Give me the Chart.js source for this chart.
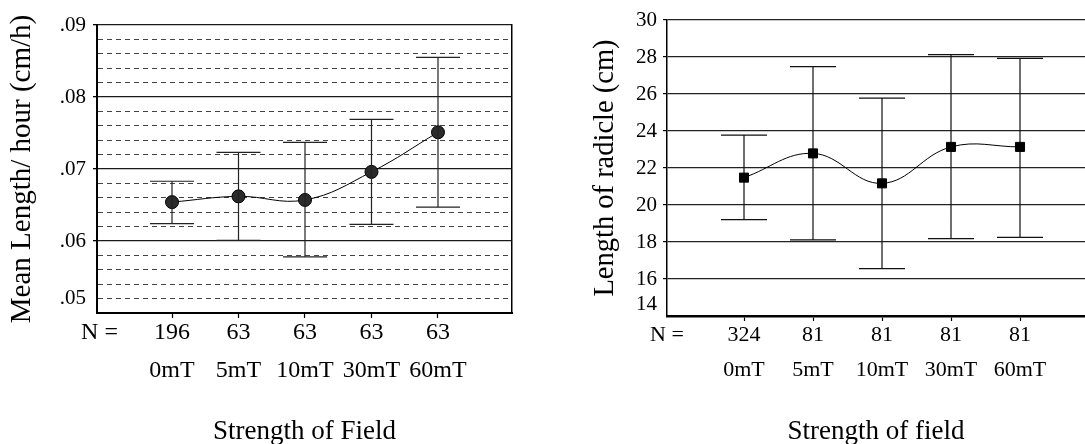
<!DOCTYPE html>
<html>
<head>
<meta charset="utf-8">
<script src="https://cdn.jsdelivr.net/npm/chart.js@4.4.0/dist/chart.umd.min.js"></script>
<style>
  html, body { margin: 0; padding: 0; background: #fff; }
  #left { position: absolute; left: 0; top: 0; width: 540px; height: 444px; }
  #right { position: absolute; left: 540px; top: 0; width: 545px; height: 444px; }
</style>
</head>
<body>
<div id="left"><canvas id="growthRate"></canvas></div>
<div id="right"><canvas id="radicle"></canvas></div>
<script>
var fields = ['0mT', '5mT', '10mT', '30mT', '60mT'];

// left: growth rate
var rateN = [196, 63, 63, 63, 63];
var rateMean = [0.0654, 0.0662, 0.0657, 0.0696, 0.0751];
var rateLow = [0.0624, 0.0601, 0.0578, 0.0623, 0.0647];
var rateHigh = [0.0683, 0.0723, 0.0737, 0.0769, 0.0855];
var rateTickValues = [0.052, 0.06, 0.07, 0.08, 0.09];
var rateTickLabels = ['.05', '.06', '.07', '.08', '.09'];

// right: radicle length
var radicleN = [324, 81, 81, 81, 81];
var radicleMean = [21.48, 22.79, 21.17, 23.14, 23.14];
var radicleLow = [19.21, 18.11, 16.56, 18.18, 18.25];
var radicleHigh = [23.78, 27.48, 25.78, 28.13, 27.93];
var radicleTickValues = [14.6, 16, 18, 20, 22, 24, 26, 28, 30];
var radicleTickLabels = ['14', '16', '18', '20', '22', '24', '26', '28', '30'];

Chart.defaults.font.family = "'Liberation Serif', 'Times New Roman', serif";
Chart.defaults.color = '#000';

var clear = 'rgba(0,0,0,0)';

function meanPoints(means) {
    return means.map(function (m, i) { return {x: i + 1, y: m}; });
}

function errorPoints(low, high) {
    var pts = [];
    for (var i = 0; i < low.length; i++) {
        pts.push({x: i + 1, y: low[i]}, {x: i + 1, y: high[i]}, {x: i + 1, y: null});
    }
    return pts;
}

function lookupLabel(values, labels, v) {
    for (var i = 0; i < values.length; i++) {
        if (Math.abs(values[i] - v) < 1e-6) return labels[i];
    }
    return '';
}

function isMajor(v) {
    return Math.abs(v * 100 - Math.round(v * 100)) < 1e-6;
}

function xTicks(nPos) {
    return function (scale) {
        scale.ticks = [{value: nPos}].concat(fields.map(function (f, i) { return {value: i + 1}; }));
    };
}

function fixHeight(h) {
    return function (s) {
        s.height = h;
        s.paddingLeft = 0;
        s.paddingRight = 0;
    };
}

// ---------- left chart ----------
new Chart(document.getElementById('growthRate'), {
    type: 'line',
    data: {
        datasets: [{
            data: errorPoints(rateLow, rateHigh),
            borderColor: '#222',
            borderWidth: 1.2,
            tension: 0,
            spanGaps: false,
            pointStyle: 'line',
            pointRadius: 22,
            pointBorderColor: '#222',
            pointBorderWidth: 1.2
        }, {
            data: meanPoints(rateMean),
            borderColor: '#000',
            borderWidth: 1,
            tension: 0.4,
            pointStyle: 'circle',
            pointRadius: 6.5,
            pointBackgroundColor: '#2b2b2b',
            pointBorderColor: '#000',
            pointBorderWidth: 1
        }]
    },
    options: {
        responsive: true,
        maintainAspectRatio: false,
        animation: false,
        events: [],
        layout: {autoPadding: false, padding: {left: 0, right: 28, top: 25, bottom: 0}},
        plugins: {legend: {display: false}, tooltip: {enabled: false}},
        scales: {
            x: {
                type: 'linear',
                min: -0.128,
                max: 6.113,
                afterBuildTicks: xTicks(-0.09),
                afterFit: fixHeight(131),
                grid: {
                    drawOnChartArea: false,
                    drawTicks: true,
                    tickLength: 5,
                    tickWidth: 1.2,
                    tickColor: function (c) { return c.index === 0 ? clear : '#000'; }
                },
                border: {color: '#000', width: 2},
                ticks: {
                    autoSkip: false,
                    maxRotation: 0,
                    minRotation: 0,
                    padding: 5.5,
                    font: {size: 24, lineHeight: '19px'},
                    callback: function (v, i) {
                        return i === 0 ? 'N =' : [String(rateN[i - 1]), '', fields[i - 1]];
                    }
                },
                title: {
                    display: true,
                    text: 'Strength of Field',
                    font: {size: 27, lineHeight: '24px'},
                    padding: 0
                }
            },
            y: {
                min: 0.05,
                max: 0.09,
                afterBuildTicks: function (s) {
                    var t = [];
                    for (var k = 0; k <= 20; k++) t.push({value: Math.round((0.05 + k * 0.002) * 1000) / 1000});
                    s.ticks = t;
                },
                afterFit: function (s) { s.width = 97; },
                ticks: {
                    autoSkip: false,
                    padding: 7,
                    font: {size: 21},
                    callback: function (v) { return lookupLabel(rateTickValues, rateTickLabels, v); }
                },
                grid: {
                    color: function (c) {
                        if (!c.tick) return '#222';
                        var v = c.tick.value;
                        if (Math.abs(v - 0.05) < 1e-6) return clear;
                        return isMajor(v) ? '#1a1a1a' : '#444';
                    },
                    lineWidth: function (c) { return c.tick && isMajor(c.tick.value) ? 1.3 : 1; },
                    tickLength: 4,
                    tickWidth: 1.3,
                    tickColor: function (c) {
                        if (!c.tick) return clear;
                        var v = c.tick.value;
                        return isMajor(v) && Math.abs(v - 0.05) > 1e-6 ? '#000' : clear;
                    }
                },
                border: {
                    color: '#000',
                    width: 2,
                    dash: function (c) { return c.tick && !isMajor(c.tick.value) ? [5, 4] : []; }
                },
                title: {
                    display: true,
                    text: 'Mean Length/ hour (cm/h)',
                    font: {size: 29},
                    padding: {top: 5, bottom: 0}
                }
            },
            yRight: {
                position: 'right',
                min: 0.05,
                max: 0.09,
                ticks: {display: false},
                grid: {display: false, drawTicks: false},
                border: {display: true, color: '#000', width: 1.5},
                afterFit: function (s) { s.width = 0; }
            }
        }
    }
});

// ---------- right chart ----------
new Chart(document.getElementById('radicle'), {
    type: 'line',
    data: {
        datasets: [{
            data: meanPoints(radicleMean),
            borderColor: '#000',
            borderWidth: 1,
            tension: 0.4,
            pointStyle: 'rect',
            pointRadius: 6.4,
            pointBackgroundColor: '#000',
            pointBorderColor: '#000',
            pointBorderWidth: 1
        }, {
            data: errorPoints(radicleLow, radicleHigh),
            borderColor: '#111',
            borderWidth: 1.2,
            tension: 0,
            spanGaps: false,
            pointStyle: 'line',
            pointRadius: 23,
            pointBorderColor: '#111',
            pointBorderWidth: 1.2
        }]
    },
    options: {
        responsive: true,
        maintainAspectRatio: false,
        animation: false,
        events: [],
        layout: {autoPadding: false, padding: {left: 0, right: 0, top: 20, bottom: 0}},
        plugins: {legend: {display: false}, tooltip: {enabled: false}},
        scales: {
            x: {
                type: 'linear',
                min: -0.116,
                max: 5.942,
                afterBuildTicks: xTicks(-0.116),
                afterFit: fixHeight(128),
                grid: {
                    drawOnChartArea: false,
                    drawTicks: true,
                    tickLength: 5,
                    tickWidth: 1.2,
                    tickColor: function (c) { return c.index === 0 ? clear : '#000'; }
                },
                border: {color: '#000', width: 2.5},
                ticks: {
                    autoSkip: false,
                    maxRotation: 0,
                    minRotation: 0,
                    padding: 5.25,
                    font: {size: 22, lineHeight: '17.5px'},
                    callback: function (v, i) {
                        return i === 0 ? 'N =' : [String(radicleN[i - 1]), '', fields[i - 1]];
                    }
                },
                title: {
                    display: true,
                    text: 'Strength of field',
                    font: {size: 27, lineHeight: '24px'},
                    padding: 0
                }
            },
            y: {
                min: 14,
                max: 30,
                afterBuildTicks: function (s) {
                    s.ticks = radicleTickValues.map(function (v) { return {value: v}; });
                },
                afterFit: function (s) { s.width = 127; },
                ticks: {
                    autoSkip: false,
                    padding: 6,
                    font: {size: 21},
                    callback: function (v) { return lookupLabel(radicleTickValues, radicleTickLabels, v); }
                },
                grid: {
                    color: function (c) { return c.tick && c.tick.value === 14.6 ? clear : '#222'; },
                    lineWidth: 1.2,
                    tickLength: 4,
                    tickWidth: 1.2,
                    tickColor: function (c) { return c.tick && c.tick.value === 14.6 ? clear : '#000'; }
                },
                border: {color: '#000', width: 1.5},
                title: {
                    display: true,
                    text: 'Length of radicle (cm)',
                    font: {size: 28.5},
                    padding: {top: 48, bottom: 0}
                }
            }
        }
    }
});
</script>
</body>
</html>
